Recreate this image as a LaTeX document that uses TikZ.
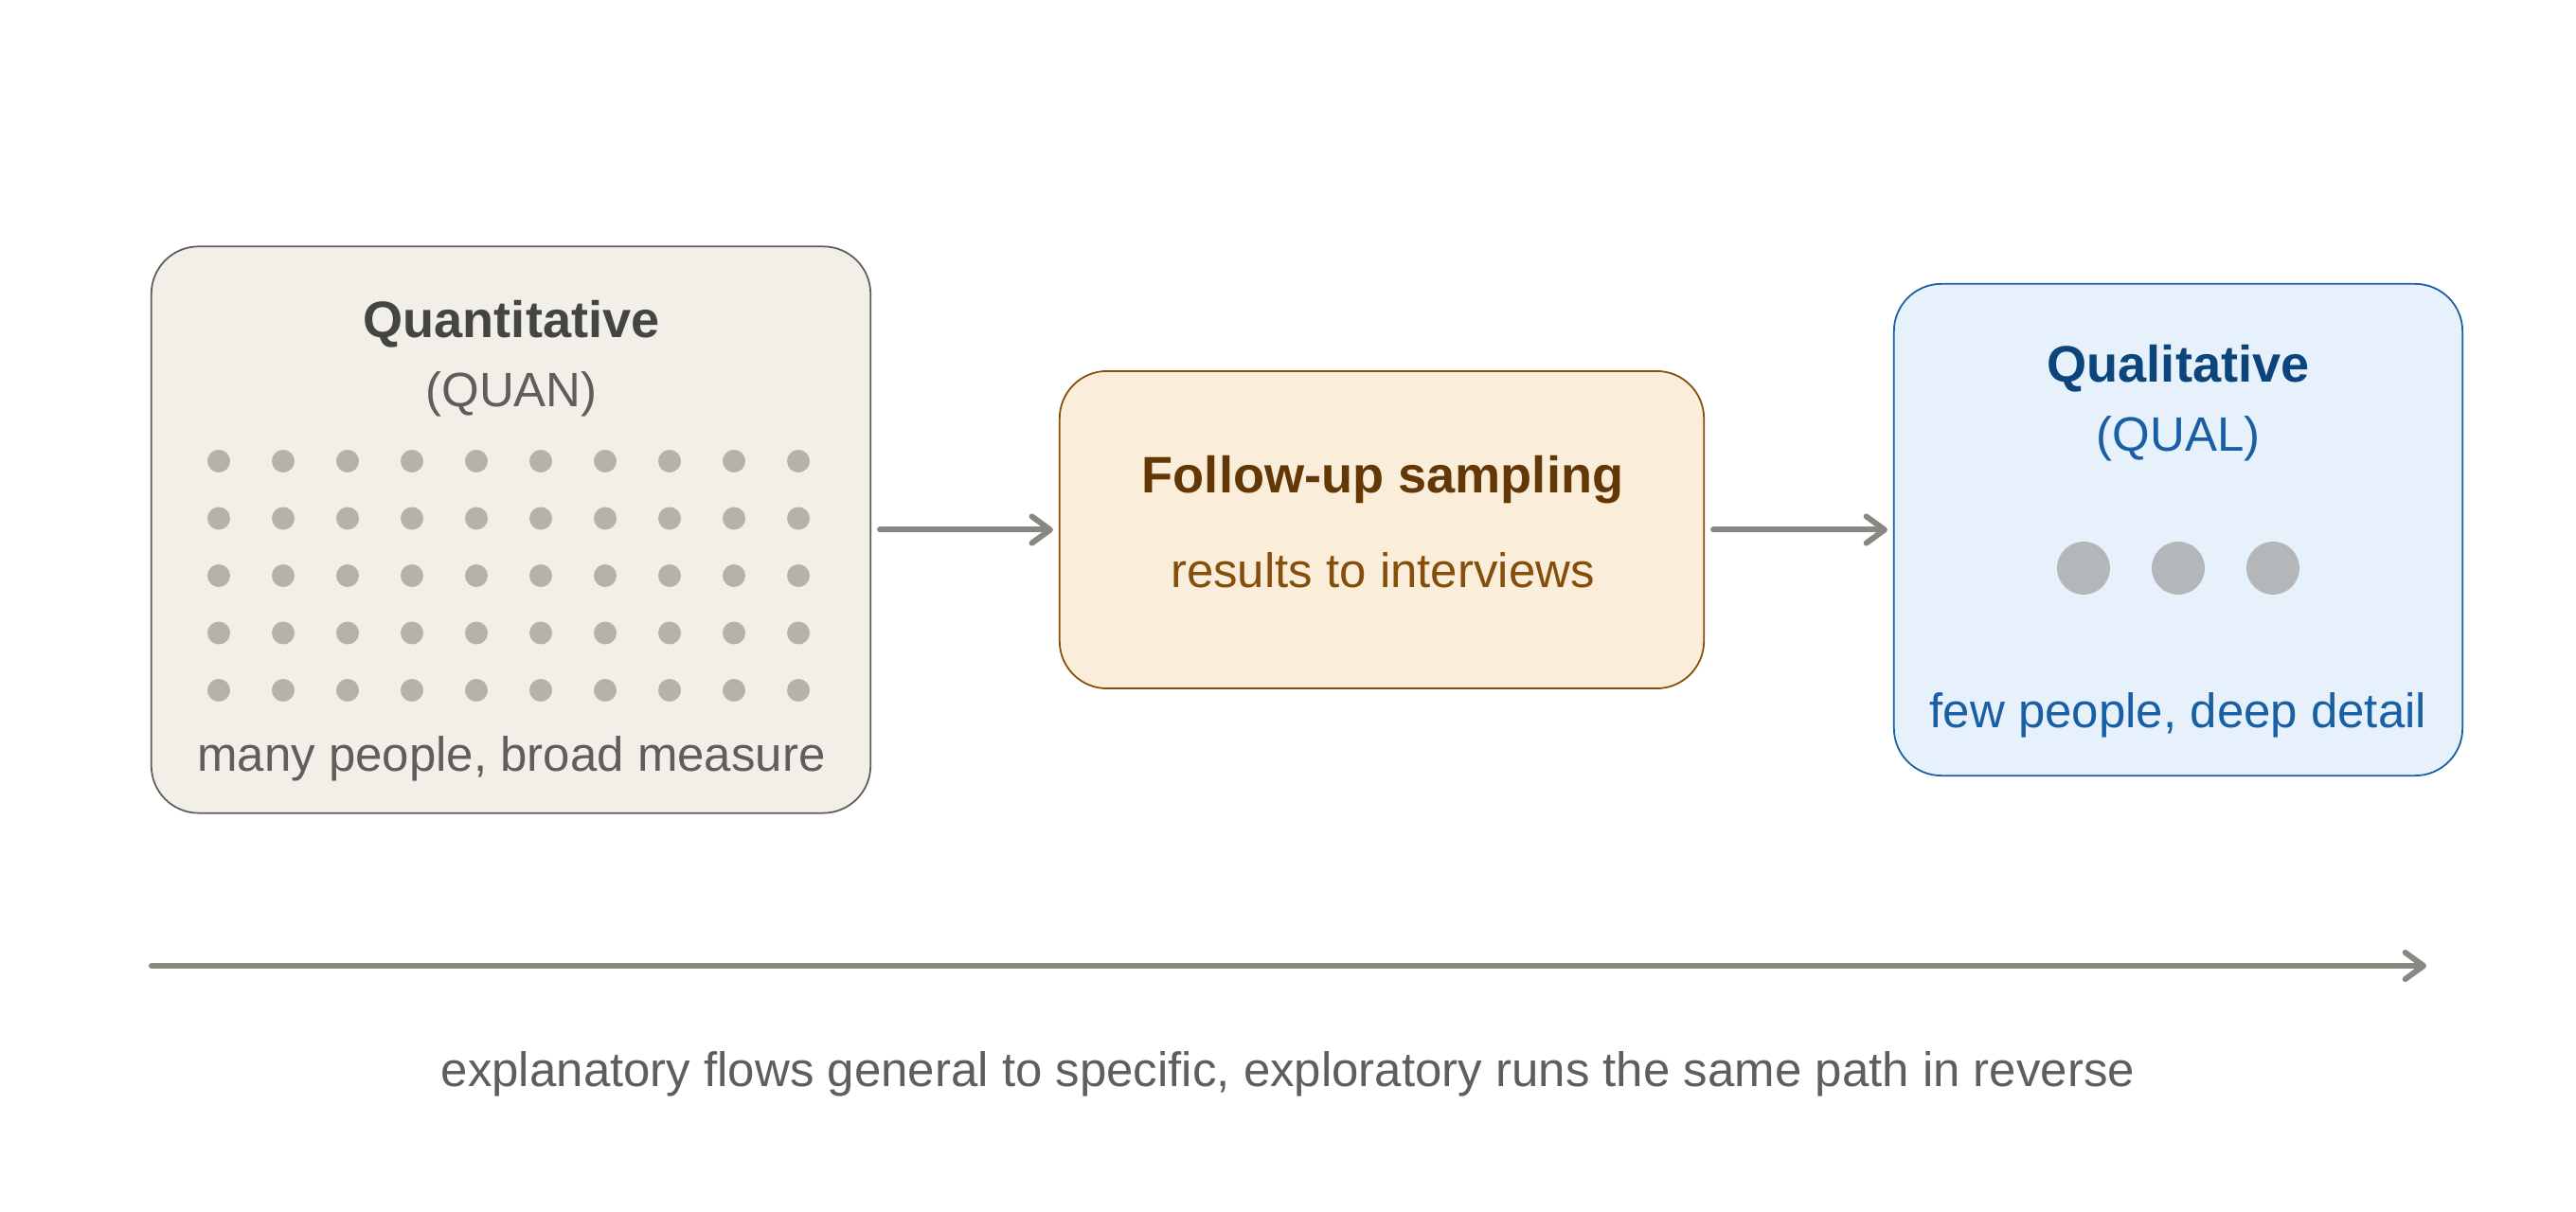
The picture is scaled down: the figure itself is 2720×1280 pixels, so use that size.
\documentclass[tikz,border=0pt]{standalone}
\usepackage{fontspec}
\setmainfont{Liberation Sans}
\usetikzlibrary{arrows.meta,positioning}

\definecolor{quanfill}{HTML}{F1EFE8}
\definecolor{quanline}{HTML}{5F5E5A}
\definecolor{quantext}{HTML}{444441}
\definecolor{dotgray}{HTML}{B4B2A9}
\definecolor{folfill}{HTML}{FAEEDA}
\definecolor{folline}{HTML}{854F0B}
\definecolor{foltext}{HTML}{633806}
\definecolor{qualfill}{HTML}{E6F1FB}
\definecolor{qualline}{HTML}{185FA5}
\definecolor{qualtext}{HTML}{0C447C}
\definecolor{qualdot}{HTML}{B4B7BA}
\definecolor{flowgray}{HTML}{888780}

\tikzset{
  stage/.style={draw, rounded corners=0.5cm, line width=0.5pt, inner sep=0pt},
  title/.style={font=\fontsize{15.4}{18}\selectfont\bfseries},
  sub/.style={font=\fontsize{14.5}{17}\selectfont},
  flow/.style={draw=flowgray, line width=1.7pt, line cap=round,
    -{Straight Barb[length=5.5pt,width=8pt,round]}},
}

\begin{document}
\begin{tikzpicture}[x=0.01cm, y=-0.01cm]
    \useasboundingbox (0,0) rectangle (2720,1280);
    % the three stages
    \node[stage, fill=quanfill, draw=quanline, minimum width=7.59cm, minimum height=5.98cm] (quan) at (539.5,559.5) {};
    \node[stage, fill=folfill, draw=folline, minimum width=6.8cm, minimum height=3.35cm] (follow) at (1459,559.5) {};
    \node[stage, fill=qualfill, draw=qualline, minimum width=6cm, minimum height=5.19cm] (qual) at (2300,559.5) {};

    \node[title, text=quantext] (quantitle) at (540,342) {Quantitative};
    \node[sub, text=quanline] (quanabbr) at (540,416) {(QUAN)};
    \foreach \i in {0,...,9}
      \foreach \j in {0,...,4}
        \fill[dotgray] (231+68*\i, 487+60.5*\j) circle[radius=0.12cm];
    \node[sub, text=quanline] (quannote) at (540,801) {many people, broad measure};

    \node[title, text=foltext] (foltitle) at (1460,507) {Follow-up sampling};
    \node[sub, text=folline] (folnote) at (1460,602) {results to interviews};

    \node[title, text=qualtext] (qualtitle) at (2300,389) {Qualitative};
    \node[sub, text=qualline] (qualabbr) at (2300,463) {(QUAL)};
    \foreach \i in {-1,0,1}
      \fill[qualdot] (2300+100*\i, 600) circle[radius=0.28cm];
    \node[sub, text=qualline] (qualnote) at (2300,755) {few people, deep detail};

    % flow between stages
    \draw[flow] ([xshift=0.09cm]quan.east) -- ([xshift=-0.06cm]follow.west);
    \draw[flow] ([xshift=0.09cm]follow.east) -- ([xshift=-0.06cm]qual.west);

    % general to specific
    \coordinate (axisL) at (160,1020);
    \coordinate (axisR) at (2562,1020);
    \draw[flow] (axisL) -- (axisR);
    \node[sub, text=quanline] (caption) at (1360,1134) {explanatory flows general to specific, exploratory runs the same path in reverse};
\end{tikzpicture}
\end{document}
